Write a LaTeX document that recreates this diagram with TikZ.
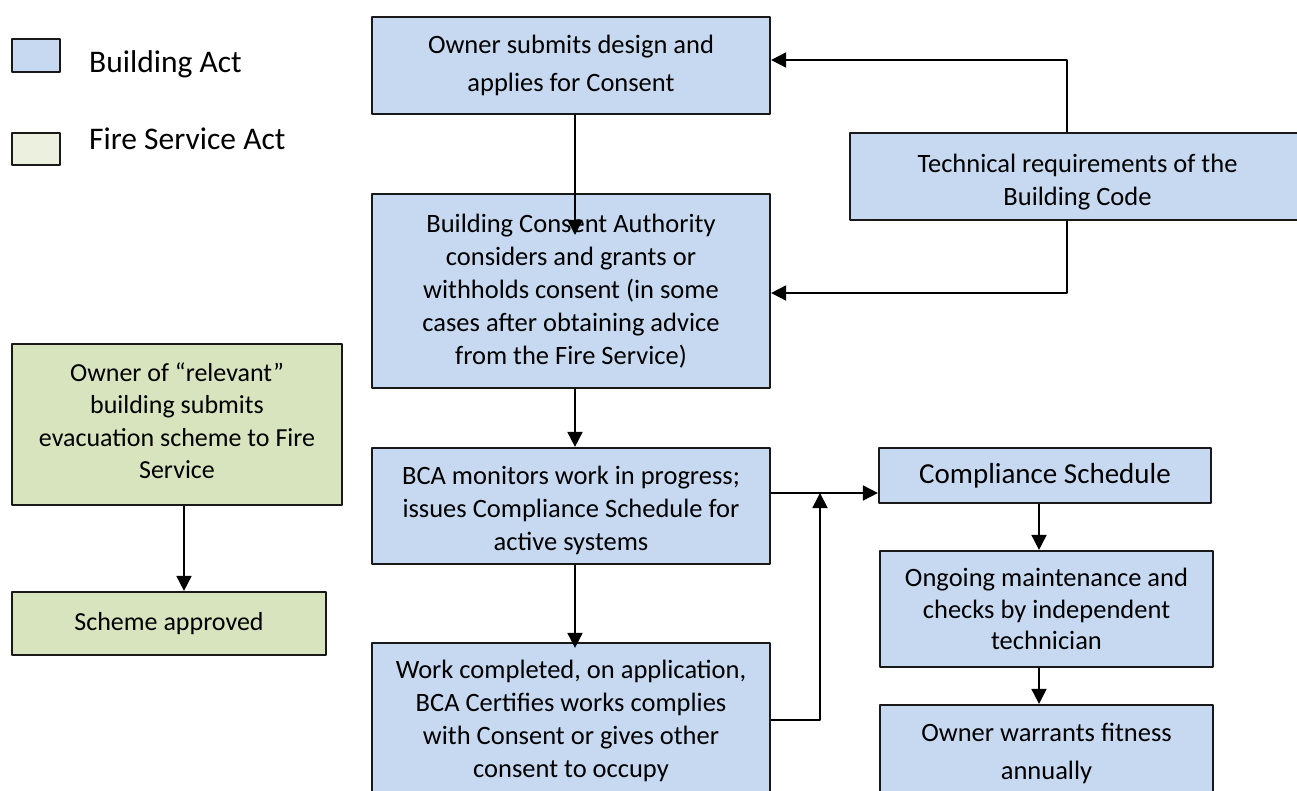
\documentclass[tikz,border=0pt]{standalone}
\usepackage{fontspec}
\setmainfont{Carlito}
\usetikzlibrary{arrows.meta}
\definecolor{actblue}{HTML}{C6D9F1}
\definecolor{firegreen}{HTML}{D7E4BD}
\definecolor{keygreen}{HTML}{EBF1DE}
\begin{document}
\begin{tikzpicture}[x=1pt,y=-1pt, line join=round, >={Triangle[length=15pt,width=15pt]},
	box/.style={draw=black!90, line width=2.2pt, fill=actblue, align=center, inner sep=0pt, font=\fontsize{26.5}{33}\selectfont},
	firebox/.style={box, fill=firegreen},
	keytext/.style={anchor=base west, inner sep=0pt, font=\fontsize{31.5}{36}\selectfont},
	arr/.style={->, line width=1.8pt}]
	\useasboundingbox (0,0) rectangle (1297,791);
	% Legend
	\node[box, minimum width=48pt, minimum height=33pt] (keyBA) at (36,55.5) {};
	\node[keytext] (keyBAtext) at (89,73) {Building Act};
	\node[box, fill=keygreen, minimum width=48pt, minimum height=32pt] (keyFS) at (36,149) {};
	\node[keytext] (keyFStext) at (89,150) {Fire Service Act};
	% Building Act boxes
	\node[box, minimum width=398pt, minimum height=97pt, font=\fontsize{26.5}{38}\selectfont] (submit) at (571,65.5) {Owner submits design and\\applies for Consent};
	\node[box, minimum width=398pt, minimum height=194pt] (consider) at (571,291) {Building Consent Authority\\considers and grants or\\withholds consent (in some\\cases after obtaining advice\\from the Fire Service)};
	\node[box, minimum width=398pt, minimum height=116pt] (monitor) at (571,506) {\rule{0pt}{28pt}BCA monitors work in progress;\\issues Compliance Schedule for\\active systems};
	\node[box, minimum width=398pt, minimum height=155pt] (complete) at (571,720.5) {Work completed, on application,\\BCA Certifies works complies\\with Consent or gives other\\consent to occupy};
	\node[box, minimum width=455pt, minimum height=87pt] (techcode) at (1077.5,176.5) {\rule{0pt}{30pt}Technical requirements of the\\Building Code};
	\node[box, minimum width=332pt, minimum height=55pt, font=\fontsize{29}{34}\selectfont] (schedule) at (1045,475.5) {Compliance Schedule};
	\node[box, minimum width=333pt, minimum height=116pt, font=\fontsize{26.5}{31.5}\selectfont] (ongoing) at (1046.5,609) {Ongoing maintenance and\\checks by independent\\technician};
	\node[box, minimum width=333pt, minimum height=96pt, font=\fontsize{26.5}{38}\selectfont] (warrant) at (1046.5,753) {Owner warrants fitness\\annually};
	% Fire Service Act boxes
	\node[firebox, minimum width=330pt, minimum height=161pt, font=\fontsize{26}{32.5}\selectfont] (evac) at (177,424.5) {Owner of “relevant”\\building submits\\evacuation scheme to Fire\\Service\rule[-8pt]{0pt}{8pt}};
	\node[firebox, minimum width=314pt, minimum height=63pt, font=\fontsize{26}{32.5}\selectfont] (approved) at (169,623.5) {Scheme approved};
	% Connector points
	\coordinate (tipBCA) at (575,235);
	\coordinate (codeup) at (1067,60);
	\coordinate (codedown) at (1067,293);
	\coordinate (join) at (820,493);
	\coordinate (joinlow) at (820,720);
	\coordinate (right) at (1039,0);
	\coordinate (fire) at (184,0);
	% Connectors
	\draw[arr] (submit.south -| tipBCA) -- (tipBCA);
	\draw[arr] (techcode.north -| codeup) |- (submit.east |- codeup);
	\draw[arr] (techcode.south -| codedown) |- (consider.east |- codedown);
	\draw[arr] (consider.south -| tipBCA) -- (monitor.north -| tipBCA);
	\draw[arr] (monitor.south -| tipBCA) -- ([yshift=-6pt]complete.north -| tipBCA);
	\draw[arr] (monitor.east |- join) -- (schedule.west |- join);
	\draw[arr] (complete.east |- joinlow) -- (joinlow) -- (join);
	\draw[arr] (schedule.south -| right) -- (ongoing.north -| right);
	\draw[arr] (ongoing.south -| right) -- (warrant.north -| right);
	\draw[arr] (evac.south -| fire) -- (approved.north -| fire);
\end{tikzpicture}
\end{document}
